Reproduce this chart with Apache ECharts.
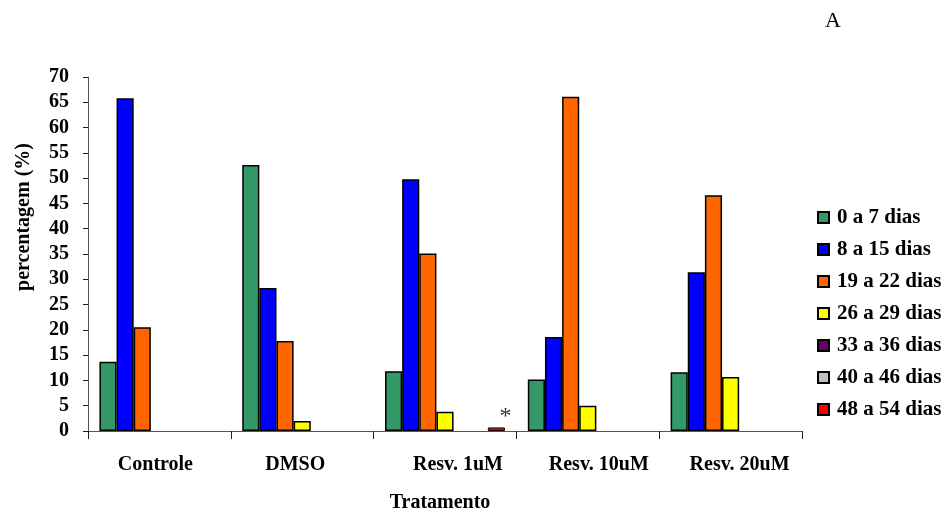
<!DOCTYPE html>
<html>
<head>
<meta charset="utf-8">
<script src="https://cdn.jsdelivr.net/npm/echarts@6/dist/echarts.min.js"></script>
<style>
  html, body { margin: 0; padding: 0; background: #fff; }
  #chart { width: 946px; height: 514px; }
</style>
</head>
<body>
<div id="chart"></div>
<script>
// Treatment groups on the x axis
const categories = ['Controle', 'DMSO', 'Resv. 1uM', 'Resv. 10uM', 'Resv. 20uM'];

// Percentage per day range (null = no bar)
const dias0a7   = [13.7, 52.6, 11.8, 10.2, 11.6];
const dias8a15  = [65.8, 28.3, 49.8, 18.6, 31.4];
const dias19a22 = [20.5, 17.8, 35.1, 66.1, 46.6];
const dias26a29 = [null, 2.0, 3.8, 5.0, 10.7];
const dias33a36 = [null, null, null, null, null];
const dias40a46 = [null, null, null, null, null];
const dias48a54 = [null, null, 0.7, null, null];

const seriesNames = ['0 a 7 dias', '8 a 15 dias', '19 a 22 dias', '26 a 29 dias',
                     '33 a 36 dias', '40 a 46 dias', '48 a 54 dias'];
const seriesData = [dias0a7, dias8a15, dias19a22, dias26a29, dias33a36, dias40a46, dias48a54];
const seriesColors = ['#339966', '#0000FF', '#FF6600', '#FFFF00', '#660066', '#C0C0C0', '#FF0000'];

const yTicks = { min: 0, max: 70, interval: 5 };

const FONT = '"Liberation Serif", "Times New Roman", serif';

// Horizontal nudge (px) of each category label, as in the original layout
const labelNudge = [-4, -7, 13, 11, 9];
const xAxisData = categories.map((c, i) => {
  const s = labelNudge[i];
  return {
    value: c,
    textStyle: { padding: s >= 0 ? [0, 0, 0, 2 * s] : [0, -2 * s, 0, 0] }
  };
});

const series = seriesNames.map((name, i) => ({
  name,
  type: 'bar',
  data: seriesData[i],
  barGap: '0%',
  barCategoryGap: '16%',
  itemStyle: { color: seriesColors[i], borderColor: '#000', borderWidth: i === 6 ? 1 : 1.5 },
  emphasis: { disabled: true },
  animation: false
}));

// Significance marker above the 48–54 day bar
series[6].label = {
  show: true,
  position: 'top',
  formatter: '*',
  offset: [9, 6],
  fontFamily: FONT,
  fontSize: 24,
  color: '#333'
};

const chart = echarts.init(document.getElementById('chart'), null, { renderer: 'canvas' });
chart.setOption({
  animation: false,
  backgroundColor: '#fff',
  title: {
    text: 'A',
    left: 825,
    top: 10,
    padding: 0,
    textStyle: { fontFamily: FONT, fontSize: 22, fontWeight: 'normal', color: '#000' }
  },
  grid: { left: 88, right: 144, top: 77, bottom: 83, containLabel: false, outerBoundsMode: 'none' },
  legend: {
    orient: 'vertical',
    left: 817,
    top: 207,
    padding: 0,
    itemWidth: 11,
    itemHeight: 11,
    itemGap: 11,
    icon: 'rect',
    data: seriesNames,
    selectedMode: false,
    textStyle: { fontFamily: FONT, fontSize: 21, fontWeight: 'bold', color: '#000', lineHeight: 21, padding: [0, 0, 0, 3] }
  },
  xAxis: {
    type: 'category',
    data: xAxisData,
    name: 'Tratamento',
    nameLocation: 'middle',
    nameGap: 62,
    nameTextStyle: { fontFamily: FONT, fontSize: 20, fontWeight: 'bold', color: '#000', padding: [0, 10, 0, 0] },
    axisLine: { lineStyle: { color: '#555', width: 1 } },
    axisTick: { show: true, length: 8, inside: false, lineStyle: { color: '#222' } },
    axisLabel: { margin: 24, fontFamily: FONT, fontSize: 20, fontWeight: 'bold', color: '#000' },
    splitLine: { show: false }
  },
  yAxis: {
    type: 'value',
    min: yTicks.min,
    max: yTicks.max,
    interval: yTicks.interval,
    name: 'percentagem (%)',
    nameLocation: 'middle',
    nameGap: 54,
    nameRotate: 90,
    nameTextStyle: { fontFamily: FONT, fontSize: 20, fontWeight: 'bold', color: '#000', padding: [0, 0, 0, 74] },
    axisLine: { show: true, lineStyle: { color: '#555', width: 1 } },
    axisTick: { show: true, length: 5, lineStyle: { color: '#222' } },
    axisLabel: { margin: 19, fontFamily: FONT, fontSize: 20, fontWeight: 'bold', color: '#000' },
    splitLine: { show: false }
  },
  series
});
</script>
</body>
</html>
